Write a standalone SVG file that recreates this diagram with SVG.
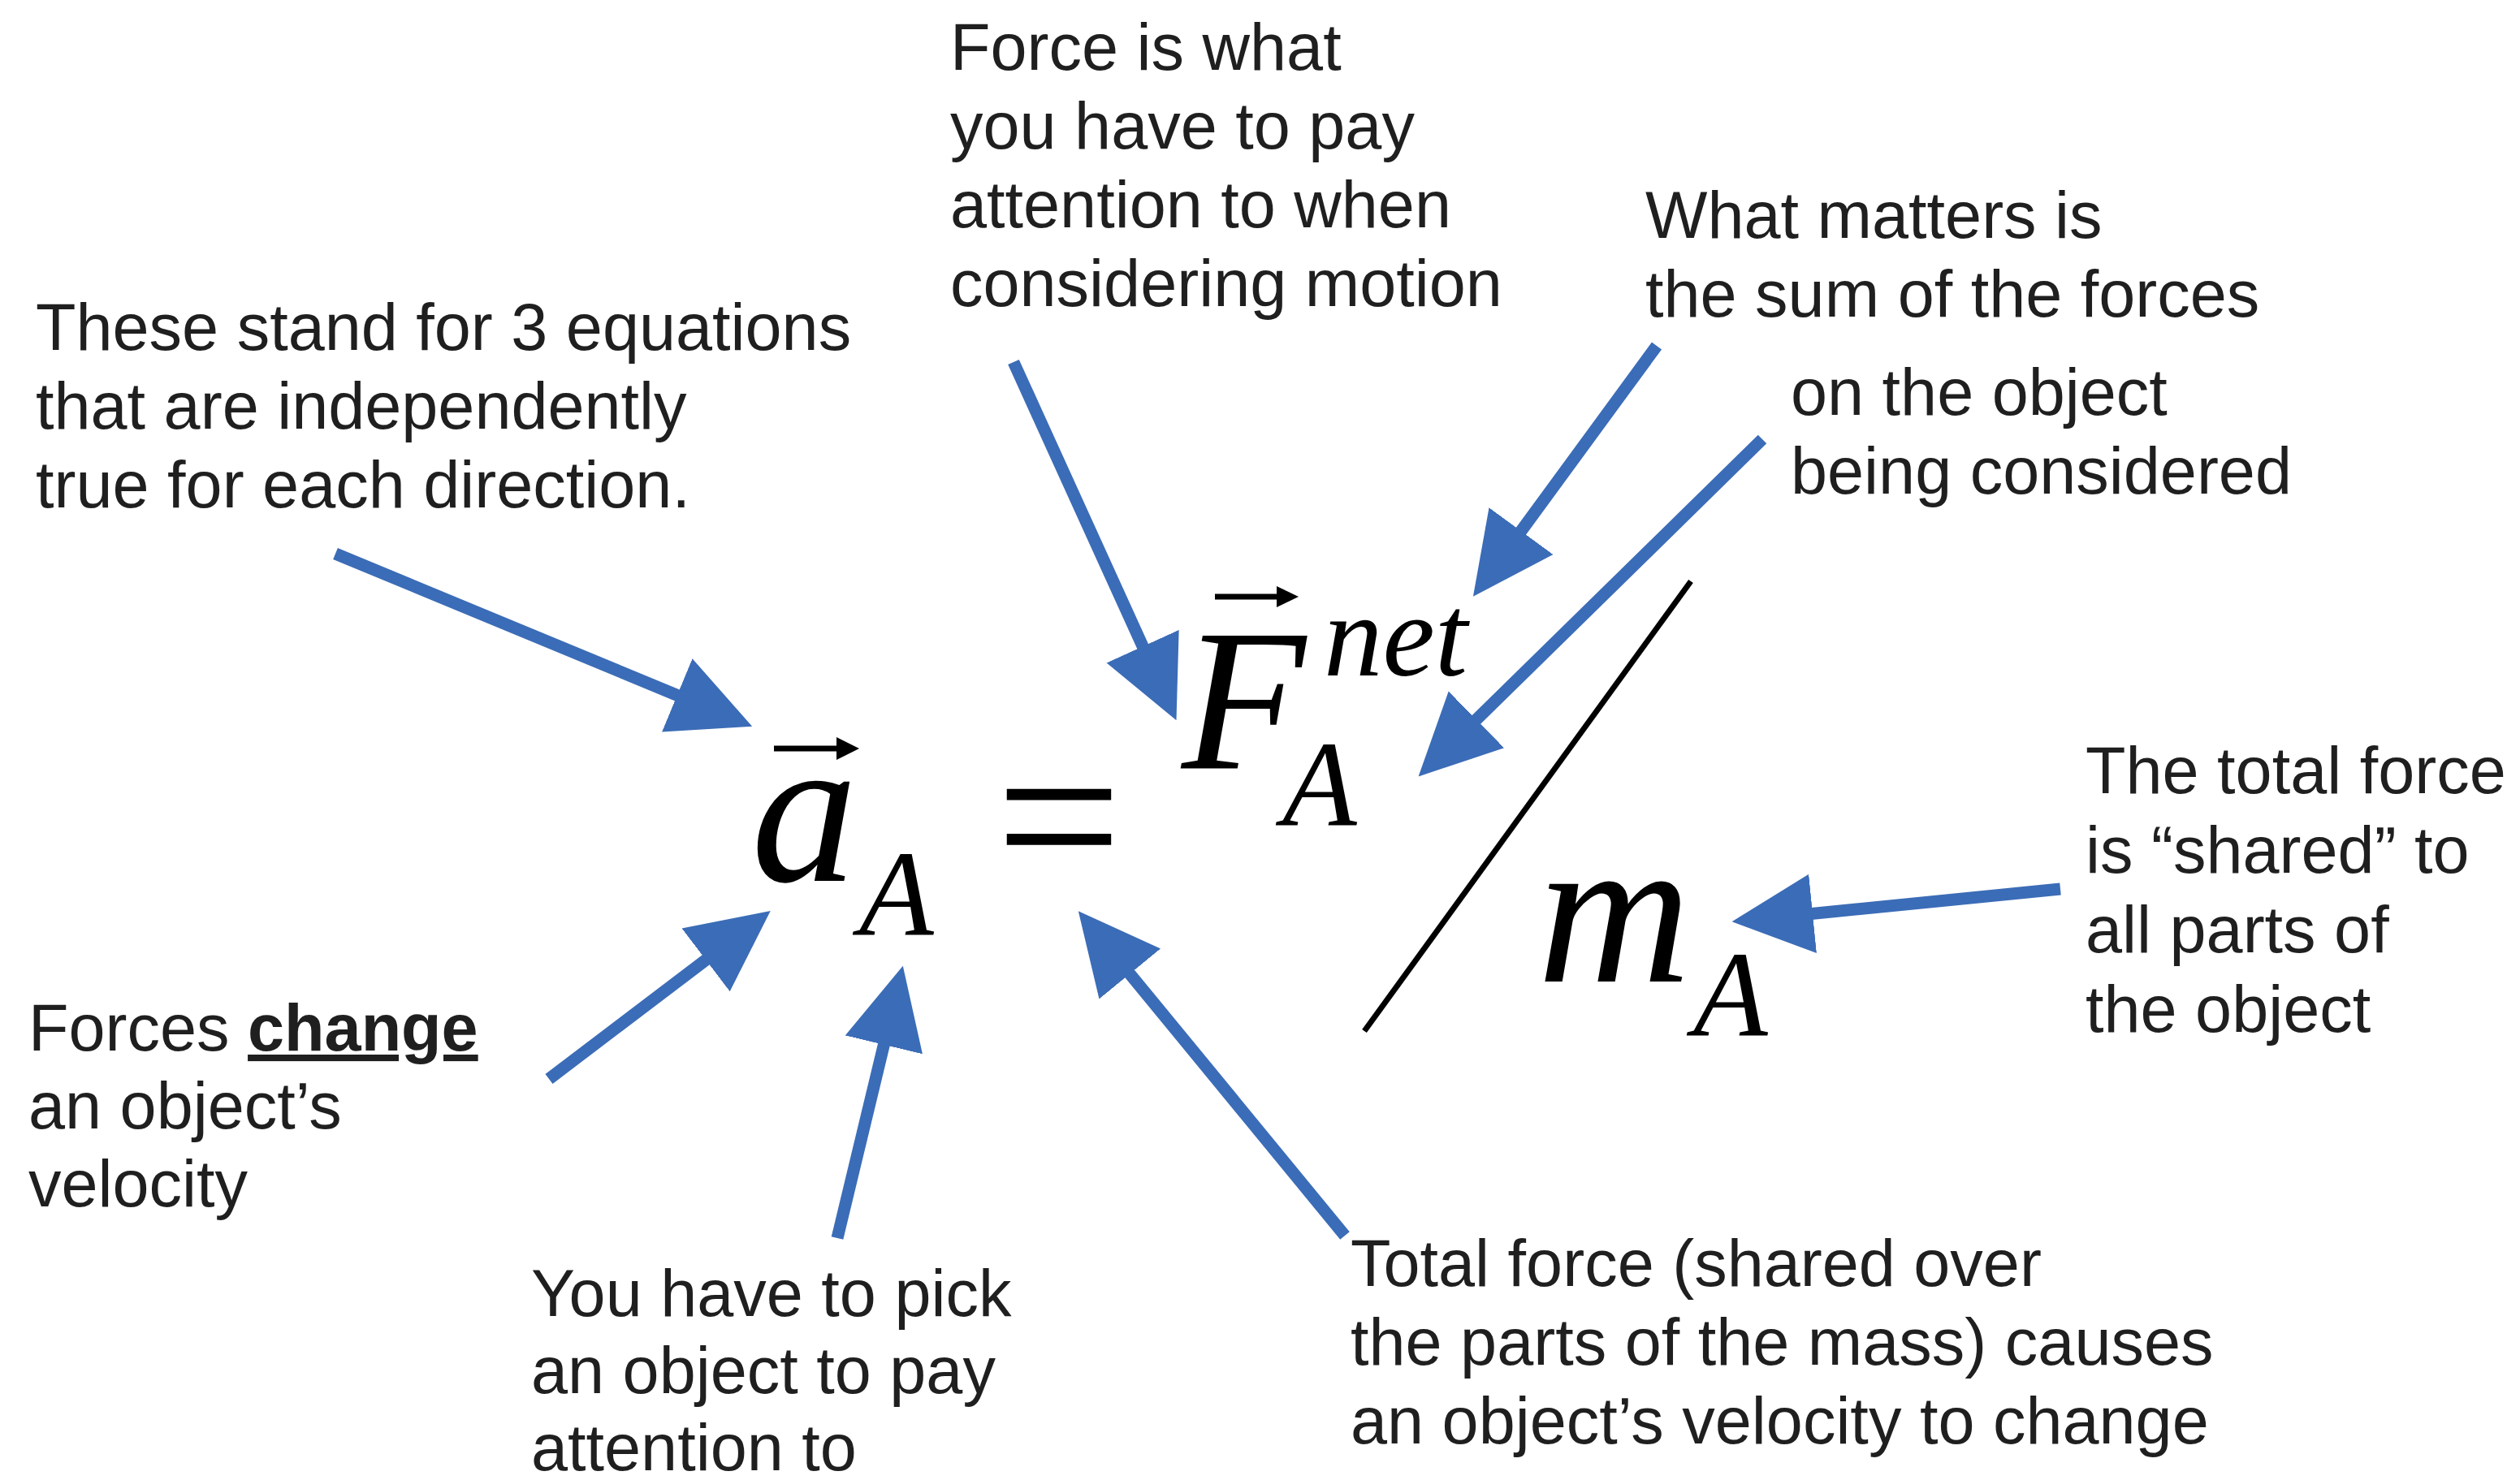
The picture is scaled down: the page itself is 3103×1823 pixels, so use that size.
<svg xmlns="http://www.w3.org/2000/svg" width="3103" height="1823" viewBox="0 0 3103 1823">
<style>
.lbl{font-family:"Liberation Sans",Arial,sans-serif;font-size:81px;fill:#1f1f1f}
.math{font-family:"Liberation Serif","Times New Roman",serif;font-style:italic;fill:#000}
.up{font-family:"Liberation Serif","Times New Roman",serif;fill:#000}
.conn{stroke:#3b6cb7;stroke-width:15;fill:none;marker-end:url(#ah)}
.vec{stroke:#000;stroke-width:7;fill:none}
</style>
<defs>
<marker id="ah" markerUnits="userSpaceOnUse" markerWidth="100" markerHeight="100" viewBox="0 0 92 90" refX="52" refY="45" orient="auto">
<path d="M0,0 L92,45 L0,90 Z" fill="#3b6cb7"/>
</marker>
</defs>
<rect width="3103" height="1823" fill="#fff"/>

<g id="connectors">
<line class="conn" x1="413" y1="682" x2="886" y2="878"/>
<line class="conn" x1="1248" y1="446" x2="1430.5" y2="847.6"/>
<line class="conn" x1="2040" y1="426" x2="1839.6" y2="699.7"/>
<line class="conn" x1="2170" y1="541" x2="1777.6" y2="926"/>
<line class="conn" x1="2537" y1="1095" x2="2175.8" y2="1131"/>
<line class="conn" x1="1656" y1="1522" x2="1355.4" y2="1155.9"/>
<line class="conn" x1="1031" y1="1525" x2="1101.6" y2="1231.9"/>
<line class="conn" x1="676" y1="1329" x2="914.1" y2="1148.2"/>
</g>

<g id="equation">
<g id="accel">
<text class="math" x="925" y="1085" font-size="262">a</text>
<line class="vec" x1="953" y1="922" x2="1035" y2="922"/>
<path d="M1030,908 L1058,922 L1030,936 Z" fill="#000"/>
<text class="math" x="1058" y="1151" font-size="150">A</text>
</g>
<text id="equals" class="up" x="1226" y="1098" font-size="276">=</text>
<g id="force">
<text class="math" x="1455" y="947" font-size="250">F</text>
<line class="vec" x1="1496" y1="735" x2="1576" y2="735"/>
<path d="M1572,722 L1599,735 L1572,748 Z" fill="#000"/>
<text class="math" x="1630" y="832" font-size="145">net</text>
<text class="math" x="1579" y="1016" font-size="150">A</text>
</g>
<line id="slash" x1="2082" y1="716" x2="1680" y2="1270" stroke="#000" stroke-width="7"/>
<g id="mass">
<text class="math" x="1893" y="1209" font-size="262">m</text>
<text class="math" x="2085" y="1275" font-size="150">A</text>
</g>
</g>

<g id="note-equations">
<text class="lbl" x="44" y="431">These stand for 3 equations</text>
<text class="lbl" x="44" y="528">that are independently</text>
<text class="lbl" x="44" y="625">true for each direction.</text>
</g>
<g id="note-force">
<text class="lbl" x="1170" y="86">Force is what</text>
<text class="lbl" x="1170" y="183">you have to pay</text>
<text class="lbl" x="1170" y="280">attention to when</text>
<text class="lbl" x="1170" y="377">considering motion</text>
</g>
<g id="note-sum">
<text class="lbl" x="2026" y="293">What matters is</text>
<text class="lbl" x="2026" y="390">the sum of the forces</text>
</g>
<g id="note-object">
<text class="lbl" x="2205" y="511">on the object</text>
<text class="lbl" x="2205" y="608">being considered</text>
</g>
<g id="note-shared">
<text class="lbl" x="2568" y="977">The total force</text>
<text class="lbl" x="2568" y="1075">is “shared” to</text>
<text class="lbl" x="2568" y="1173">all parts of</text>
<text class="lbl" x="2568" y="1271">the object</text>
</g>
<g id="note-total">
<text class="lbl" x="1663" y="1584">Total force (shared over</text>
<text class="lbl" x="1663" y="1681">the parts of the mass) causes</text>
<text class="lbl" x="1663" y="1778">an object’s velocity to change</text>
</g>
<g id="note-change">
<text class="lbl" x="35" y="1294">Forces <tspan font-weight="bold" text-decoration="underline">change</tspan></text>
<text class="lbl" x="35" y="1390">an object’s</text>
<text class="lbl" x="35" y="1486">velocity</text>
</g>
<g id="note-pick">
<text class="lbl" x="654" y="1621">You have to pick</text>
<text class="lbl" x="654" y="1716">an object to pay</text>
<text class="lbl" x="654" y="1811">attention to</text>
</g>
</svg>
